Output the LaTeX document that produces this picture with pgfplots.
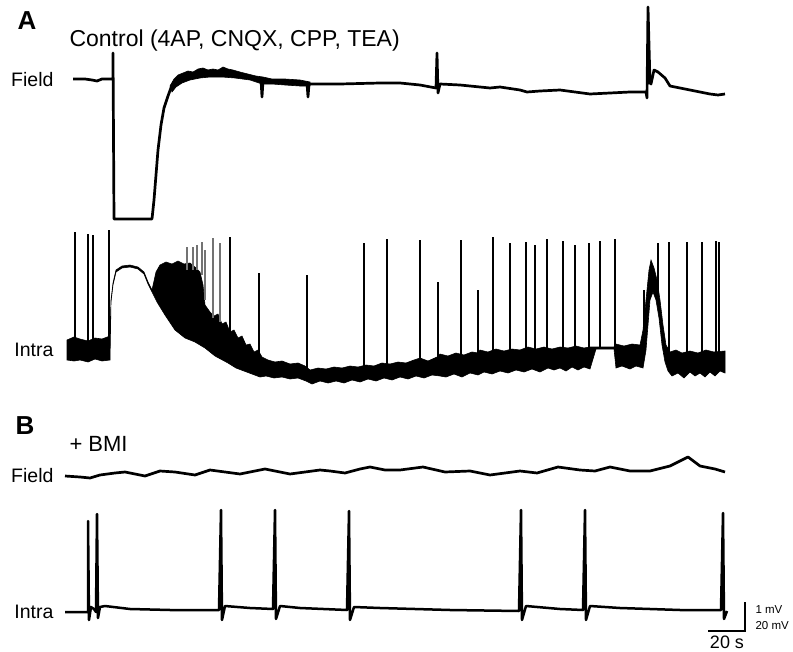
\documentclass[border=0pt]{standalone}
\usepackage{pgfplots}
\pgfplotsset{compat=1.18}
\usepackage{fontspec}
\setmainfont{Liberation Sans}
\begin{document}
\begin{tikzpicture}
\begin{axis}[at={(0,0)}, anchor=south west, width=793pt, height=651pt, scale only axis,
  xmin=0, xmax=793, ymin=0, ymax=651, y dir=reverse, hide axis, clip=false,
  unbounded coords=jump]
% ---------- A: Field ----------
\addplot[black, line width=2.7pt, line join=round] coordinates {
(73,79) (85,79) (92,80) (97,81) (102,79) (113,79) (113,53) (114,219) (152,219) (154,200) (156,175) (158,150) (161,125) (164,108) (168,96) (172,85) (178,78) (190,74) (205,71) (225,72) (245,75) (261,79) (262,97) (263,81) (285,82) (307,83) (308,97) (309,84) (340,84) (380,83) (400,83) (420,85) (436,88) (437,53) (438,93) (440,84) (460,85) (480,87) (490,88) (500,87) (520,90) (527,92) (540,91) (560,90) (575,92) (590,94) (610,93) (630,92) (646,92) (647,98) (648,7) (650,83) (651,84) (654,70) (658,72) (665,78) (670,86) (680,88) (690,90) (700,92) (710,94) (718,95) (725,94)
};
% noisy band of the field trace
\addplot[black, fill=black, line width=0.6pt] coordinates {
(170,86) (174,79) (178,75) (183,73) (188,71) (193,72) (198,69) (203,68) (208,70) (213,69) (218,70) (223,67) (228,69) (233,70) (240,72) (248,74) (256,76) (263,77) (272,79) (285,79) (300,80) (310,82)
(310,86) (300,86) (285,85) (272,84) (262,84) (250,80) (235,78) (222,77) (210,77) (200,78) (190,80) (182,83) (176,87) (172,92)
} -- cycle;
% ---------- A: Intra band ----------
\addplot[black, fill=black, line width=0.6pt] coordinates {
(67,340) (74,337) (80,339) (88,341) (95,338) (102,339) (110,336) (111,300) (113,283) (116,270) (122,266) (130,265) (138,267) (144,272) (148,282) (152,290) (156,272) (160,265) (166,262) (172,264) (178,261) (184,264) (190,263) (196,268) (200,272) (203,285)
(205,305) (210,312) (214,316) (218,314) (222,324) (226,322) (230,332) (234,330) (238,338) (242,336) (246,345) (250,344) (254,352) (258,350) (262,357) (268,360) (275,362) (282,361) (290,364) (298,363) (305,366) (310,370) (318,368) (326,369) (334,367) (342,368) (350,366) (358,367) (366,365) (374,366) (382,363) (390,364) (398,362) (406,363) (414,360) (420,358) (428,361) (437,357) (440,354) (448,356) (456,353) (464,355) (472,352) (478,353) (480,350) (488,352) (496,349) (504,351) (512,349) (520,350) (528,347) (536,349) (544,347) (552,349) (560,347) (568,348) (576,346) (584,348) (590,347) (596,347) (614,347) (616,344) (624,346) (632,344) (640,345)
(643,330) (646,300) (649,270) (651,260) (654,268) (657,280) (660,300) (663,325) (666,345) (670,352) (676,350) (682,353) (690,351) (698,353) (706,350) (714,352) (725,351)
(725,373) (720,371) (715,376) (710,372) (705,377) (700,373) (695,376) (690,372) (684,378) (678,373) (672,376) (668,371) (665,362) (662,345) (659,318) (656,300) (653,292) (650,300) (648,325) (646,350) (643,368)
(636,366) (630,369) (622,366) (616,368) (614,349) (596,349) (590,369) (584,367) (578,370) (572,367) (566,371) (560,368) (554,370) (548,368) (540,372) (532,369) (524,372) (516,370) (508,373) (500,371) (492,374) (484,372) (478,375) (470,373) (462,377) (454,374) (446,377) (440,376) (432,375) (424,378) (416,376) (408,379) (400,377) (392,380) (384,378) (376,381) (368,379) (360,382) (352,380) (344,383) (336,381) (328,383) (320,381) (312,384) (306,381) (298,378) (290,379) (282,377) (274,378) (266,376) (260,377) (252,374) (244,371) (236,368) (228,363)
(215,356) (205,348) (195,342) (185,338) (175,330) (165,315) (157,302) (153,294) (148,284) (144,274) (138,269) (130,267) (122,268) (116,272) (113,285) (111,302) (110,360) (102,361) (95,359) (88,362) (80,360) (74,361) (67,360)
} -- cycle;
% spikes A intra
\addplot[black, line width=1.5pt] coordinates {
(75,345) (75,232) (nan,nan) (88,345) (88,234) (nan,nan) (93,345) (93,235) (nan,nan) (109,340) (109,230) (nan,nan)
(230,335) (230,237) (nan,nan) (259,360) (259,273) (nan,nan) (307,368) (307,275) (nan,nan) (364,368) (364,243) (nan,nan)
(387,365) (387,239) (nan,nan) (420,362) (420,240) (nan,nan) (438,360) (438,282) (nan,nan) (461,357) (461,240) (nan,nan)
(478,356) (478,290) (nan,nan) (493,353) (493,237) (nan,nan) (510,353) (510,243) (nan,nan) (526,352) (526,242) (nan,nan)
(535,352) (535,245) (nan,nan) (547,351) (547,239) (nan,nan) (563,350) (563,241) (nan,nan) (575,350) (575,245) (nan,nan)
(589,349) (589,243) (nan,nan) (600,349) (600,241) (nan,nan) (615,348) (615,239) (nan,nan) (644,340) (644,290) (nan,nan)
(658,300) (658,243) (nan,nan) (669,355) (669,242) (nan,nan) (687,355) (687,242) (nan,nan) (702,355) (702,242) (nan,nan)
(716,355) (716,241) (nan,nan) (719,355) (719,242)
};
\addplot[black!55, line width=1.1pt] coordinates {
(187,270) (187,247) (nan,nan) (193,270) (193,247) (nan,nan) (197,270) (197,245) (nan,nan) (202,275) (202,242) (nan,nan)
(205,300) (205,250) (nan,nan) (213,318) (213,238) (nan,nan) (220,322) (220,243)
};
% ---------- B: Field ----------
\addplot[black, line width=2.7pt, line join=round] coordinates {
(65,476) (80,477) (90,478) (100,475) (115,473) (125,472) (145,476) (160,471) (175,472) (195,475) (210,470) (225,472) (240,474) (265,469) (280,472) (290,474) (305,472) (320,470) (330,471) (345,473) (360,469) (370,467) (385,470) (400,470) (423,467) (445,472) (470,471) (490,475) (520,471) (537,473) (558,467) (580,470) (595,471) (610,467) (630,471) (650,471) (670,466) (688,457) (700,466) (715,469) (725,472)
};
% ---------- B: Intra ----------
\addplot[black, line width=2.5pt, line join=round] coordinates {
(65,612) (86,612) (88,612) (88,521) (89,620) (91,607) (94,609) (96,612) (97,514) (98,618) (100,607) (105,606) (130,609) (170,610) (219,610) (221,510) (222,620) (225,606) (250,608) (273,609) (275,510) (276,619) (280,606) (300,608) (347,610) (349,511) (350,620) (354,607) (380,608) (450,610) (519,611) (521,510) (522,620) (526,606) (560,609) (583,610) (585,510) (586,620) (590,606) (620,608) (680,610) (721,610) (723,513) (724,619) (727,611)
};
% scale bar
\addplot[black, line width=1.5pt] coordinates {(708,631) (745,631) (745,602)};
% ---------- labels ----------
\node[anchor=center, font=\fontsize{26}{30}\selectfont\bfseries] at (axis cs:27,21) {A};
\node[anchor=west, font=\fontsize{23}{27}\selectfont] at (axis cs:66,41) {Control (4AP, CNQX, CPP, TEA)};
\node[anchor=east, font=\fontsize{19.5}{22}\selectfont] at (axis cs:57,80) {Field};
\node[anchor=east, font=\fontsize{19.5}{22}\selectfont] at (axis cs:57,350) {Intra};
\node[anchor=center, font=\fontsize{26}{30}\selectfont\bfseries] at (axis cs:25,426) {B};
\node[anchor=west, font=\fontsize{22}{26}\selectfont] at (axis cs:66,444) {+ BMI};
\node[anchor=east, font=\fontsize{19.5}{22}\selectfont] at (axis cs:57,476) {Field};
\node[anchor=east, font=\fontsize{19.5}{22}\selectfont] at (axis cs:57,612) {Intra};
\node[anchor=west, font=\fontsize{11.5}{13}\selectfont] at (axis cs:752,610) {1 mV};
\node[anchor=west, font=\fontsize{11.5}{13}\selectfont] at (axis cs:752,626) {20 mV};
\node[anchor=center, font=\fontsize{18}{21}\selectfont] at (axis cs:727,642) {20 s};
\end{axis}
\path (0,0) rectangle (793pt,651pt);
\end{tikzpicture}
\end{document}
